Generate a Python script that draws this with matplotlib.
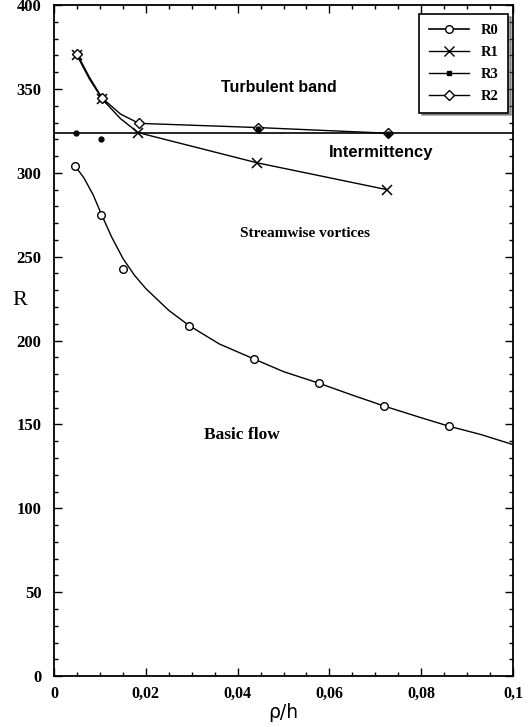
import matplotlib.pyplot as plt
from matplotlib.ticker import MultipleLocator, FuncFormatter

## data
r0_x = [0.0046, 0.0102, 0.0150, 0.0294, 0.0436, 0.0577, 0.0719, 0.0860]
r0_R = [304, 275, 242.5, 208.6, 189, 174.6, 161, 149]
## fitted curve through R0
fit_x = [0.0046, 0.0065, 0.0085, 0.0102, 0.0125, 0.015, 0.0175, 0.02, 0.025,
         0.0294, 0.036, 0.0436, 0.05, 0.0577, 0.065, 0.0719, 0.08, 0.086, 0.093, 0.1]
fit_R = [304, 297, 287, 276, 262, 249, 239, 231, 218,
         209, 198, 189, 181.5, 174.6, 167.5, 161, 154, 149, 144, 138]

r1_x = [0.0050, 0.0105, 0.0183, 0.0442, 0.0725]
r1_R = [370, 344, 324, 306, 290]
## drawn line of R1 (slightly bowed at start)
r1_line_x = [0.0050, 0.0077, 0.0105, 0.0144, 0.0183, 0.0442, 0.0725]
r1_line_R = [370, 356, 344, 332.5, 324, 306, 290]
r2_x = [0.0050, 0.0105, 0.0185, 0.0444, 0.0728]
r2_R = [371, 344.5, 329.5, 327, 323.6]
r2_line_x = [0.0050, 0.0077, 0.0105, 0.0145, 0.0185, 0.0444, 0.0728]
r2_line_R = [371, 357, 344.5, 335, 329.5, 327, 323.6]
r3_x = [0.0048, 0.0102, 0.0444, 0.0728]
r3_R = [324, 320, 326, 323]
R_int = 324  ## intermittency threshold

serif = 'Liberation Serif'
sans = 'Liberation Sans'

fig = plt.figure(figsize=(5.3, 7.27), dpi=100)
ax = fig.add_axes([0.102, 0.070, 0.866, 0.923])

## R0 curve + points
ax.plot(fit_x, fit_R, color='black', lw=1.0)
ax.plot(r0_x, r0_R, ls='none', marker='o', mfc='white', mec='black', ms=5.5, mew=1.0)
## R1 / R2
ax.plot(r1_line_x, r1_line_R, color='black', lw=1.0)
ax.plot(r1_x, r1_R, ls='none', color='black', marker='x', ms=7.5, mew=1.1)
ax.plot(r2_line_x, r2_line_R, color='black', lw=1.0)
ax.plot(r2_x, r2_R, ls='none', marker='D', mfc='white', mec='black', ms=5, mew=1.0)
ax.plot(r3_x, r3_R, ls='none', marker='o', color='black', ms=3.5)
ax.plot([0, 0.1], [R_int, R_int], color='black', lw=1.2)

## legend proxies
h0, = ax.plot([], [], color='black', lw=1.2, marker='o', mfc='white', mec='black', ms=5.5)
h1, = ax.plot([], [], color='black', lw=1.0, marker='x', ms=7.5)
h3, = ax.plot([], [], color='black', lw=1.0, marker='s', ms=3.5)
h2, = ax.plot([], [], color='black', lw=1.0, marker='D', mfc='white', mec='black', ms=5)
leg = ax.legend([h0, h1, h3, h2], ['R0', 'R1', 'R3', 'R2'], loc='upper right',
                bbox_to_anchor=(0.99, 0.986), borderaxespad=0, fancybox=False, shadow=True,
                framealpha=1, edgecolor='black', handlelength=2.8, borderpad=0.65,
                labelspacing=0.6, prop={'family': serif, 'weight': 'bold', 'size': 10.5})
leg.get_frame().set_linewidth(1.2)

## region labels
ax.text(0.049, 351, 'Turbulent band', ha='center', va='center', family=sans, weight='bold', fontsize=11.5)
ax.text(0.0712, 312, 'Intermittency', ha='center', va='center', family=sans, weight='bold', fontsize=12)
ax.text(0.0547, 264, 'Streamwise vortices', ha='center', va='center', family=serif, weight='bold', fontsize=11)
ax.text(0.041, 143.6, 'Basic flow', ha='center', va='center', family=serif, weight='bold', fontsize=12.5)

ax.set_xlim(0, 0.1)
ax.set_ylim(0, 400)
ax.xaxis.set_major_locator(MultipleLocator(0.02))
ax.xaxis.set_minor_locator(MultipleLocator(0.005))
ax.yaxis.set_major_locator(MultipleLocator(50))
ax.yaxis.set_minor_locator(MultipleLocator(10))
ax.xaxis.set_major_formatter(FuncFormatter(lambda v, p: '0' if v == 0 else ('%g' % round(v, 3)).replace('.', ',')))
ax.tick_params(which='both', direction='in', top=True, right=True, width=1)
ax.tick_params(which='major', length=6)
ax.tick_params(which='minor', length=3)
ax.tick_params(axis='x', pad=7)
ax.tick_params(axis='y', pad=9)
for lab in ax.get_xticklabels():
    lab.set_family(serif)
    lab.set_weight('bold')
    lab.set_fontsize(11.5)
for lab in ax.get_yticklabels():
    lab.set_family(serif)
    lab.set_weight('bold')
    lab.set_fontsize(12)
for s in ax.spines.values():
    s.set_linewidth(1.3)

ax.set_xlabel('ρ/h', fontsize=13.5, labelpad=1)
ax.set_ylabel('R', family=serif, fontsize=16, rotation=0, va='center')
ax.yaxis.set_label_coords(-0.074, 0.56)

plt.savefig('out.png', dpi=100)
